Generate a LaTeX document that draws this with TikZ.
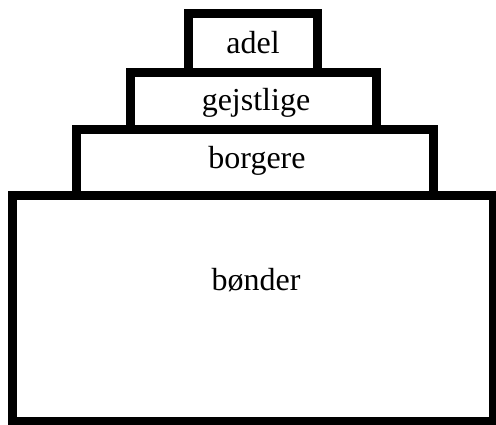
\documentclass[tikz,border=0pt]{standalone}
\usepackage{fontspec}
\setmainfont{Liberation Serif}
\usetikzlibrary{positioning}

\begin{document}
\begin{tikzpicture}[x=1pt,y=-1pt,
		layer/.style={draw=black,line width=9pt,fill=white,rectangle,inner sep=0pt,outer sep=0pt},
		lbl/.style={anchor=base,inner sep=0pt,font=\fontsize{32}{35}\selectfont},
	]
	\useasboundingbox (0,0) rectangle (496,424);
	% layers, from the bottom up
	\node[layer,minimum width=481pt,minimum height=226pt] (bonder) at (252.5,308) {};
	\node[layer,minimum width=357pt,minimum height=66pt] (borgere) at (254.5,162) {};
	\node[layer,minimum width=246pt,minimum height=56.5pt] (gejstlige) at (253,100.75) {};
	\node[layer,minimum width=129pt,minimum height=59pt] (adel) at (253,43) {};
	% texts
	\node[lbl] (tadel) at (253,53) {adel};
	\node[lbl] (tgejstlige) at (256,110) {gejstlige};
	\node[lbl] (tborgere) at (257,168) {borgere};
	\node[lbl] (tbonder) at (256,290) {bønder};
\end{tikzpicture}
\end{document}
